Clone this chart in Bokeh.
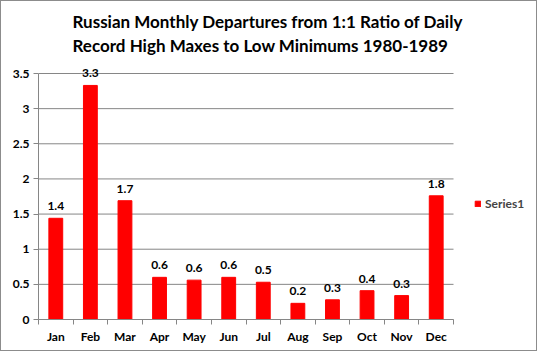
from bokeh.plotting import figure
from bokeh.models import ColumnDataSource, FixedTicker, Legend, LegendItem, Title, Range1d
from bokeh.core.properties import value
from bokeh.embed import file_html
from bokeh.resources import INLINE

months = ["Jan", "Feb", "Mar", "Apr", "May", "Jun", "Jul", "Aug", "Sep", "Oct", "Nov", "Dec"]
values = [1.44, 3.33, 1.69, 0.60, 0.56, 0.60, 0.53, 0.23, 0.28, 0.41, 0.34, 1.76]
labels = ["1.4", "3.3", "1.7", "0.6", "0.6", "0.6", "0.5", "0.2", "0.3", "0.4", "0.3", "1.8"]
y_ticks = [0, 0.5, 1, 1.5, 2, 2.5, 3, 3.5]

pos = list(range(1, len(months) + 1))
src = ColumnDataSource(dict(x=pos, top=values, lab=labels))
x_lo, x_hi = 0.5, len(months) + 0.5
y_lo, y_hi = 0, 3.5
grid_src = ColumnDataSource(dict(x0=[x_lo] * len(y_ticks), x1=[x_hi] * len(y_ticks), y=y_ticks))

FONT = "Lato"

# frame spans 37..537 horizontally; the 12 months use the first 415 px
unit_x = 415 / len(months)
x_end = x_lo + 500 / unit_x
# frame spans 54..318 vertically; 0..3.5 uses the bottom 246 px
unit_y = 246 / (y_hi - y_lo)
y_end = y_hi + 18 / unit_y

p = figure(width=537, height=351, output_backend="svg", toolbar_location=None,
           x_range=Range1d(x_lo, x_end), y_range=Range1d(y_lo, y_end),
           min_border_left=37, min_border_right=0, min_border_top=54, min_border_bottom=33)
p.styles = {"border": "1px solid #8c8c8c"}
p.outline_line_color = None
p.background_fill_color = "white"
p.border_fill_color = "white"

p.segment(x0="x0", x1="x1", y0="y", y1="y", source=grid_src, line_color="#868686", line_width=1)
r = p.vbar(x="x", top="top", width=0.4, source=src, color="#FF0000")
p.text(x="x", y="top", text="lab", source=src, text_align="center", text_baseline="bottom",
       y_offset=-8, text_font=value(FONT), text_font_style="bold", text_font_size="12px",
       text_color="black")

# Titles
p.title.text = "Russian Monthly Departures from 1:1 Ratio of Daily"
p.title.align = "left"
p.title.offset = 34
p.title.standoff = 2
p.title.text_color = "black"
p.title.text_font = FONT
p.title.text_font_size = "17px"
p.title.text_font_style = "bold"
t2 = Title(text="Record High Maxes to Low Minimums 1980-1989", align="left", offset=34,
           standoff=0, text_color="black",
           text_font=FONT, text_font_size="17px", text_font_style="bold")
p.add_layout(t2, "above")

# x axis
p.xaxis.bounds = (x_lo, x_hi)
p.xaxis.ticker = FixedTicker(ticks=pos, minor_ticks=[i + 0.5 for i in range(0, 13)])
p.xaxis.major_label_overrides = {i: m for i, m in zip(pos, months)}
p.xaxis.major_tick_out = 0
p.xaxis.major_tick_in = 0
p.xaxis.minor_tick_out = 5
p.xaxis.minor_tick_in = 0
p.xaxis.minor_tick_line_color = "#868686"
p.xaxis.axis_line_color = "#868686"
p.xaxis.major_label_standoff = 4
p.xaxis.major_label_text_font = FONT
p.xaxis.major_label_text_font_style = "bold"
p.xaxis.major_label_text_font_size = "12px"
p.xaxis.major_label_text_color = "black"

# y axis
p.yaxis.bounds = (y_lo, y_hi)
p.yaxis.ticker = FixedTicker(ticks=y_ticks)
p.yaxis.major_tick_out = 5
p.yaxis.major_tick_in = 0
p.yaxis.minor_tick_out = 0
p.yaxis.minor_tick_in = 0
p.yaxis.major_tick_line_color = "#868686"
p.yaxis.axis_line_color = "#868686"
p.yaxis.major_label_standoff = 4
p.yaxis.major_label_text_font = FONT
p.yaxis.major_label_text_font_style = "bold"
p.yaxis.major_label_text_font_size = "12px"
p.yaxis.major_label_text_color = "black"

p.xgrid.grid_line_color = None
p.ygrid.grid_line_color = None

legend = Legend(items=[LegendItem(label="Series1", renderers=[r])], location=(436, 108),
                glyph_width=7, glyph_height=7, label_text_font=FONT,
                label_text_font_style="bold", label_text_font_size="12px",
                border_line_color=None, background_fill_alpha=0, margin=0, padding=0,
                label_standoff=4)
p.add_layout(legend)

open("out.html", "w").write(file_html(p, INLINE))
